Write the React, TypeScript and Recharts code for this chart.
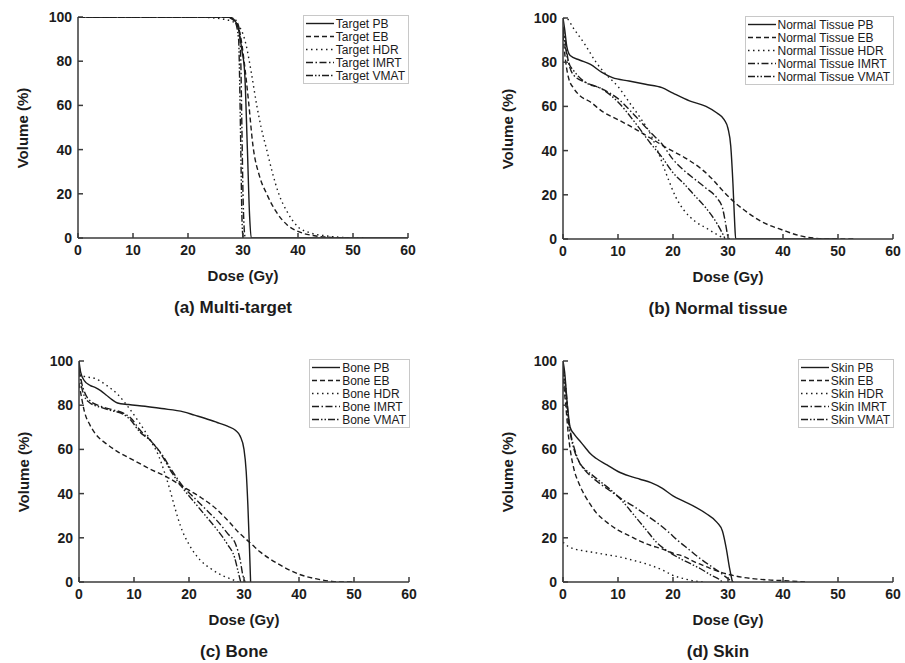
import { LineChart, Line, XAxis, YAxis, Legend } from 'recharts'

const doseTicks = [0, 10, 20, 30, 40, 50, 60]
const volumeTicks = [0, 20, 40, 60, 80, 100]
const methods = ['PB', 'EB', 'HDR', 'IMRT', 'VMAT']

// cumulative DVH points as [dose (Gy), volume (%)]
const targetPB = [[0, 100], [27, 100], [28, 99.5], [29, 96], [29.8, 85], [30.3, 75], [30.8, 40], [31.2, 10], [31.5, 0], [60, 0]]
const targetEB = [[0, 100], [27, 100], [28.5, 98], [29.5, 92], [30.2, 80], [31, 62], [31.8, 42], [33, 28], [34.3, 20], [36, 12], [38, 6], [40, 3], [43, 1], [46, 0.3], [50, 0]]
const targetHDR = [[0, 100], [20, 100], [25, 99.5], [28, 98], [29.5, 95], [30.5, 88], [31.5, 75], [32.5, 60], [33.3, 50], [34.3, 40], [35.3, 30], [36.5, 20], [38, 12], [40, 5], [42, 2.5], [45, 1], [48, 0.3], [52, 0]]
const targetIMRT = [[0, 100], [27, 100], [28.5, 99], [29.3, 95], [29.6, 80], [29.8, 50], [30, 20], [30.2, 5], [30.4, 0]]
const targetVMAT = [[0, 100], [27, 100], [28.5, 98], [29.2, 90], [29.4, 70], [29.6, 40], [29.8, 10], [30, 0]]

const normalPB = [[0, 100], [0.3, 95], [0.7, 87], [1.3, 83], [3, 81], [5, 79], [7, 75.5], [9, 73], [12, 71.5], [15, 70], [18, 68.5], [20, 66], [23, 62.5], [26, 60], [28, 57], [29.3, 54], [30, 50], [30.5, 42], [30.9, 25], [31.2, 8], [31.4, 0], [50, 0]]
const normalEB = [[0, 92], [0.5, 80], [1, 73], [2, 68], [3, 65], [5, 62], [7, 58], [10, 54], [13, 50], [15, 47], [17, 44], [19, 41], [22, 37], [25, 32], [27, 27.5], [29, 22], [31, 17], [33, 13], [36, 8], [40, 4], [43, 1.5], [46, 0.3], [48, 0], [53, 0]]
const normalHDR = [[0, 100], [0.5, 100], [2, 95], [4, 88], [6, 80], [8, 74], [10, 69], [12, 62], [14, 55], [16, 47], [17.5, 38], [19, 28], [20.5, 19], [22, 13], [24, 8], [26, 5], [28, 2], [29.5, 0]]
const normalIMRT = [[0, 96], [0.5, 88], [1, 80], [2, 74], [4, 71], [7, 68], [10, 63.5], [13, 56], [16, 48], [18, 43], [20, 36], [22, 31], [24, 27], [26, 23], [28, 18.5], [29, 14], [29.5, 8], [30, 1], [30.3, 0]]
const normalVMAT = [[0, 94], [0.5, 86], [1, 80], [2, 76], [4, 71], [7, 68], [10, 62], [13, 53], [16, 43], [18, 37], [20, 30], [22, 25], [24, 19.5], [26, 14], [28, 7], [29, 2.5], [29.5, 0]]

const bonePB = [[0, 100], [0.3, 95], [1, 91], [2, 89], [3, 88], [4, 86.5], [5, 84.5], [6, 82.5], [7, 81], [9, 80.3], [12, 79.5], [15, 78.5], [19, 77], [21, 75.5], [23, 74], [25, 72.3], [27, 70.5], [28.5, 68.5], [29.3, 66], [30, 60], [30.4, 50], [30.7, 35], [31, 15], [31.2, 0]]
const boneEB = [[0, 90], [0.5, 83], [1, 77], [2, 71], [3, 67], [5, 62.5], [7, 59], [10, 55], [13, 51], [16, 47.5], [19, 43], [22, 38.5], [25, 33], [27, 28], [29, 22.5], [31, 18], [33, 13.5], [36, 8.5], [40, 3.5], [43, 1.5], [46, 0.3], [48, 0], [50, 0]]
const boneHDR = [[0, 94], [1, 93], [3, 92], [5, 89], [7, 85], [9, 79], [11, 72], [13, 64], [14.5, 57], [15.5, 50], [16.5, 42], [17.5, 33], [18.5, 25], [20, 17], [22, 10], [24, 6], [26, 3], [28, 1], [29, 0]]
const boneIMRT = [[0, 98], [0.5, 90], [1, 86], [2, 82], [4, 79.5], [6, 78], [8, 76.5], [9.5, 74], [11, 69], [13, 64], [15, 58], [17, 50], [19, 43], [21, 38], [23, 33], [25, 28], [27, 22], [28.5, 17], [29.3, 10], [29.8, 3], [30.2, 0]]
const boneVMAT = [[0, 96], [0.5, 88], [1, 84], [2, 81], [4, 79], [6, 77.5], [8, 76], [9.5, 73], [11, 68], [13, 64], [15, 57.5], [17, 49], [19, 42], [21, 36], [23, 30], [25, 24], [27, 17], [28.3, 11], [29, 4], [29.4, 0]]

const skinPB = [[0, 100], [0.3, 95], [0.8, 80], [1.3, 70], [2, 67], [3, 64], [4, 61], [5, 58], [6, 56], [8, 53], [10, 50], [12, 48], [14, 46.5], [16, 45], [18, 42.5], [20, 39], [22, 36.5], [24, 34], [26, 31], [28, 27], [29, 23], [29.7, 15], [30.3, 6], [30.8, 0]]
const skinEB = [[0, 92], [0.5, 80], [1, 66], [1.5, 57], [2, 51], [3, 44], [4, 39], [5, 35], [6, 31.5], [8, 27], [10, 23.5], [12, 21], [14, 18.5], [16, 16.5], [18, 15], [20, 13], [22, 11.5], [24, 9], [26, 7], [28, 5], [30, 3.5], [33, 2], [37, 1], [41, 0.5], [44, 0]]
const skinHDR = [[0, 18], [1, 16], [2, 15], [4, 14], [6, 13.2], [8, 12.3], [10, 11.5], [12, 10.3], [14, 9], [16, 7.5], [18, 5.5], [20, 3], [22, 1.5], [24, 0.4], [26, 0]]
const skinIMRT = [[0, 98], [0.5, 88], [1, 74], [1.5, 66], [2, 61], [3, 54], [4, 50.5], [5, 48], [7, 44], [9, 40.5], [11, 37], [13, 34], [15, 30.5], [17, 27], [19, 23], [21, 18.5], [23, 14.5], [25, 10.5], [27, 7], [29, 3.5], [30, 1.5], [31, 0]]
const skinVMAT = [[0, 96], [0.5, 85], [1, 72], [1.5, 65], [2, 60], [3, 54], [4, 51], [5, 49], [7, 45], [9, 41], [11, 36], [13, 30], [15, 24], [17, 18], [19, 14], [21, 11], [23, 8.5], [25, 6], [27, 3], [28.5, 1], [29, 0]]

const DASH = ['', '5 3', '1.5 3.5', '7 2.5 1.5 2.5', '7 2 1.5 2 1.5 2']
const FONT = '"Liberation Sans", Arial, sans-serif'
const INK = '#1c1c1c'

const panels = [
  { prefix: 'Target', title: '(a) Multi-target', curves: [targetPB, targetEB, targetHDR, targetIMRT, targetVMAT], left: 0, top: 0 },
  { prefix: 'Normal Tissue', title: '(b) Normal tissue', curves: [normalPB, normalEB, normalHDR, normalIMRT, normalVMAT], left: 485, top: 1 },
  { prefix: 'Bone', title: '(c) Bone', curves: [bonePB, boneEB, boneHDR, boneIMRT, boneVMAT], left: 1, top: 344 },
  { prefix: 'Skin', title: '(d) Skin', curves: [skinPB, skinEB, skinHDR, skinIMRT, skinVMAT], left: 485, top: 344 },
]

const W = 450
const H = 300
const Y_AXIS_W = 50
const X_AXIS_H = 30
// plot area: x 78..408, y 17..238 inside each panel
const M = { top: 17, right: 42, bottom: 62 - X_AXIS_H, left: 78 - Y_AXIS_W }

function LegendBox({ prefix }: { prefix: string }) {
  return (
    <div style={{ border: '1px solid #c8c8c8', background: '#fff', padding: '1px 3px 1px 1px', fontFamily: FONT, fontSize: 12, color: INK }}>
      {methods.map((m, i) => (
        <div key={m} style={{ display: 'flex', alignItems: 'center', height: 13, whiteSpace: 'nowrap' }}>
          <svg width={30} height={13} style={{ display: 'block' }}>
            <line x1={1} y1={6.5} x2={29} y2={6.5} stroke={INK} strokeWidth={1.4} strokeDasharray={DASH[i]} />
          </svg>
          <span style={{ marginLeft: 1 }}>{prefix} {m}</span>
        </div>
      ))}
    </div>
  )
}

function Panel({ p }: { p: (typeof panels)[number] }) {
  const plotW = 330
  const plotH = 221
  const left = 78
  const cx = left + plotW / 2
  const bottom = M.top + plotH
  const tickStyle = { fill: INK, fontSize: 14, fontWeight: 700, fontFamily: FONT }
  return (
    <div style={{ position: 'absolute', left: p.left, top: p.top, width: W, height: 330 }}>
      <LineChart width={W} height={H} margin={M}>
        <XAxis
          type="number"
          dataKey="d"
          domain={[0, 60]}
          ticks={doseTicks}
          allowDataOverflow
          height={X_AXIS_H}
          stroke="#3a3a3a"
          strokeWidth={1.5}
          tickSize={-5}
          tickMargin={12}
          tick={tickStyle}
        />
        <YAxis
          type="number"
          domain={[0, 100]}
          ticks={volumeTicks}
          allowDataOverflow
          width={Y_AXIS_W}
          stroke="#3a3a3a"
          strokeWidth={1.5}
          tickSize={-5}
          tickMargin={11}
          tick={tickStyle}
        />
        <Legend
          layout="vertical"
          align="center"
          verticalAlign="middle"
          wrapperStyle={{ top: 15, right: 41, left: 'auto', bottom: 'auto', width: 'auto', height: 'auto' }}
          content={() => <LegendBox prefix={p.prefix} />}
        />
        {p.curves.map((pts, i) => (
          <Line
            key={methods[i]}
            name={`${p.prefix} ${methods[i]}`}
            data={pts.map(([d, v]) => ({ d, v }))}
            dataKey="v"
            type="monotone"
            stroke={INK}
            strokeWidth={1.4}
            strokeDasharray={DASH[i]}
            dot={false}
            activeDot={false}
            isAnimationActive={false}
          />
        ))}
      </LineChart>
      <div style={{ position: 'absolute', left: left - 56, top: M.top + plotH / 2, transform: 'translate(-50%, -50%) rotate(-90deg)', fontFamily: FONT, fontWeight: 700, fontSize: 15, color: INK, whiteSpace: 'nowrap' }}>
        Volume (%)
      </div>
      <div style={{ position: 'absolute', left: cx, top: bottom + 37, transform: 'translate(-50%, -50%)', fontFamily: FONT, fontWeight: 700, fontSize: 15, color: INK, whiteSpace: 'nowrap' }}>
        Dose (Gy)
      </div>
      <div style={{ position: 'absolute', left: cx - 10, top: bottom + 70, transform: 'translate(-50%, -50%)', fontFamily: FONT, fontWeight: 700, fontSize: 17, color: INK, whiteSpace: 'nowrap' }}>
        {p.title}
      </div>
    </div>
  )
}

export default function App() {
  return (
    <div style={{ position: 'absolute', left: 0, top: 0, width: 905, height: 663, background: '#fff', overflow: 'hidden' }}>
      {panels.map(p => (
        <Panel key={p.title} p={p} />
      ))}
    </div>
  )
}
